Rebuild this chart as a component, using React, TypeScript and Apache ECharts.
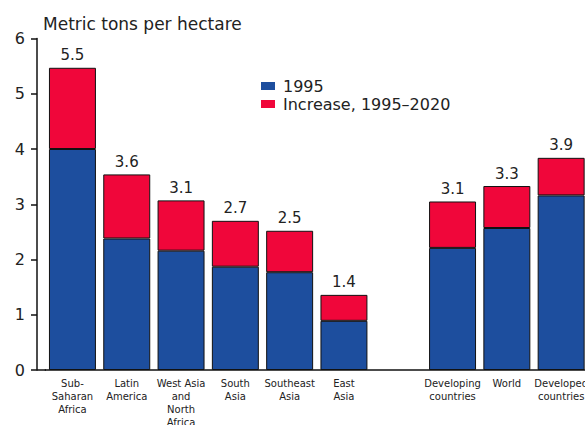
import React, { useEffect, useRef } from "react";
import * as echarts from "echarts";

const categories = [
  "Sub-\nSaharan\nAfrica",
  "Latin\nAmerica",
  "West Asia\nand\nNorth\nAfrica",
  "South\nAsia",
  "Southeast\nAsia",
  "East\nAsia",
  "",
  "Developing\ncountries",
  "World",
  "Developed\ncountries",
];
const base1995: (number | null)[] = [4.0, 2.38, 2.16, 1.87, 1.77, 0.89, null, 2.21, 2.57, 3.16];
const increase: (number | null)[] = [1.47, 1.16, 0.91, 0.83, 0.75, 0.47, null, 0.84, 0.76, 0.68];
const totalLabels = ["5.5", "3.6", "3.1", "2.7", "2.5", "1.4", "", "3.1", "3.3", "3.9"];
const yTicks = [0, 6, 1];

const FONT = "DejaVu Sans";

export default function App() {
  const ref = useRef<HTMLDivElement>(null);
  useEffect(() => {
    document.body.style.margin = "0";
    if (!ref.current) return;
    const chart = echarts.init(ref.current, null, { renderer: "svg" });
    chart.setOption({
      animation: false,
      backgroundColor: "#ffffff",
      title: {
        text: "Metric tons per hectare",
        left: 43,
        top: 15,
        padding: 0,
        textStyle: { fontFamily: FONT, fontSize: 17, fontWeight: "normal", color: "#222" },
      },
      legend: {
        orient: "vertical",
        left: 261,
        top: 78,
        padding: 0,
        itemWidth: 14,
        itemHeight: 8,
        itemGap: 2,
        icon: "rect",
        itemStyle: { borderWidth: 0 },
        textStyle: {
          fontFamily: FONT,
          fontSize: 16,
          color: "#222",
          lineHeight: 16,
          padding: [0, 0, 0, 3],
        },
        data: ["1995", "Increase, 1995\u20132020"],
      },
      grid: {
        left: 45.3,
        top: 38.5,
        width: 543,
        height: 331.5,
        containLabel: false,
        outerBoundsMode: "none",
      },
      graphic: [
        {
          type: "line",
          shape: { x1: 37, y1: 370, x2: 46, y2: 370 },
          style: { stroke: "#111", lineWidth: 1.5 },
        },
      ],
      xAxis: {
        type: "category",
        data: categories,
        axisLine: { lineStyle: { color: "#111", width: 1.5 } },
        axisTick: { show: false },
        axisLabel: {
          interval: 0,
          margin: 7,
          fontFamily: FONT,
          fontSize: 10,
          lineHeight: 13,
          color: "#222",
          hideOverlap: false,
        },
      },
      yAxis: {
        type: "value",
        min: yTicks[0],
        max: yTicks[1],
        interval: yTicks[2],
        offset: 8.3,
        splitLine: { show: false },
        axisLine: { show: true, lineStyle: { color: "#111", width: 1.5 } },
        axisTick: { show: true, length: 6, lineStyle: { color: "#111", width: 1.5 } },
        axisLabel: { margin: 12, fontFamily: FONT, fontSize: 16, color: "#222" },
      },
      series: [
        {
          name: "1995",
          type: "bar",
          stack: "total",
          barWidth: "86.5%",
          data: base1995,
          itemStyle: { color: "#1d4e9e", borderColor: "#111", borderWidth: 1 },
        },
        {
          name: "Increase, 1995\u20132020",
          type: "bar",
          stack: "total",
          barWidth: "86.5%",
          data: increase,
          itemStyle: { color: "#f0063a", borderColor: "#111", borderWidth: 1 },
          label: {
            show: true,
            position: "top",
            distance: 5,
            fontFamily: FONT,
            fontSize: 15,
            color: "#222",
            formatter: (p: any) => totalLabels[p.dataIndex],
          },
        },
      ],
    });
    return () => chart.dispose();
  }, []);
  return <div ref={ref} style={{ width: 585, height: 425 }} />;
}
